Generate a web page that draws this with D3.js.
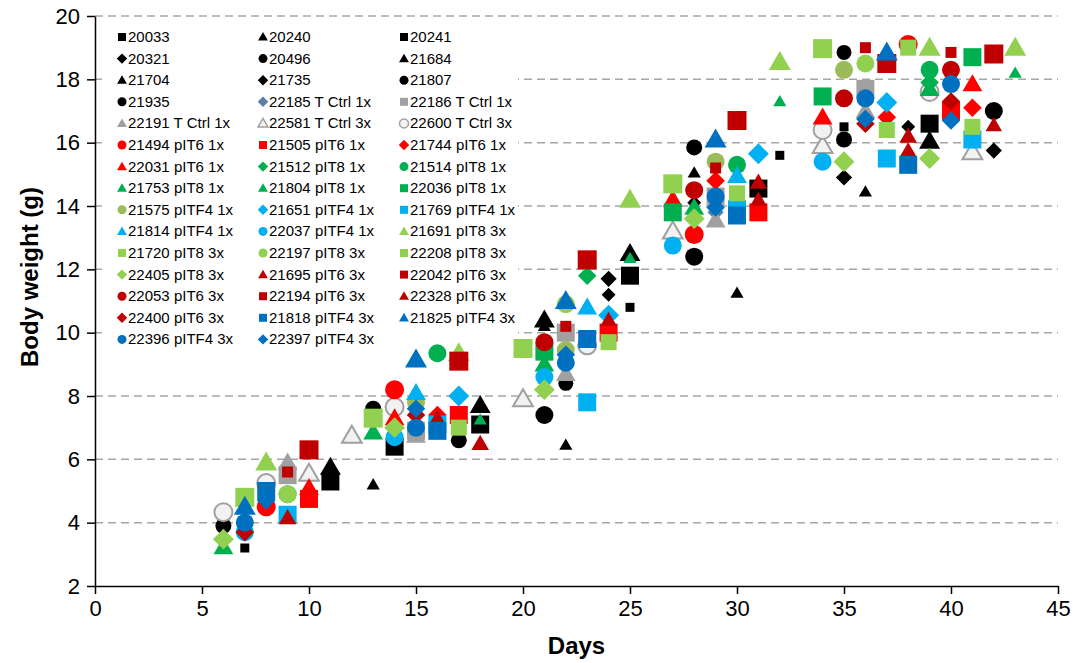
<!DOCTYPE html>
<html>
<head>
<meta charset="utf-8">
<script src="https://cdn.jsdelivr.net/npm/d3@7"></script>
<style>
    body { margin: 0; background: #fff; }
    svg { display: block; font-family: "Liberation Sans", Arial, sans-serif; }
</style>
</head>
<body>
<div id="chart"></div>
<script>
'use strict';

// Body weight per mouse.
var xTicks = [0, 5, 10, 15, 20, 25, 30, 35, 40, 45];
var yTicks = [2, 4, 6, 8, 10, 12, 14, 16, 18, 20];

var seriesNames = [
    '20033', '20240', '20241',
    '20321', '20496', '21684',
    '21704', '21735', '21807',
    '21935', '22185 T Ctrl 1x', '22186 T Ctrl 1x',
    '22191 T Ctrl 1x', '22581 T Ctrl 3x', '22600 T Ctrl 3x',
    '21494 pIT6 1x', '21505 pIT6 1x', '21744 pIT6 1x',
    '22031 pIT6 1x', '21512 pIT8 1x', '21514 pIT8 1x',
    '21753 pIT8 1x', '21804 pIT8 1x', '22036 pIT8 1x',
    '21575 pITF4 1x', '21651 pITF4 1x', '21769 pITF4 1x',
    '21814 pITF4 1x', '22037 pITF4 1x', '21691 pIT8 3x',
    '21720 pIT8 3x', '22197 pIT8 3x', '22208 pIT8 3x',
    '22405 pIT8 3x', '21695 pIT6 3x', '22042 pIT6 3x',
    '22053 pIT6 3x', '22194 pIT6 3x', '22328 pIT6 3x',
    '22400 pIT6 3x', '21818 pITF4 3x', '21825 pITF4 3x',
    '22396 pITF4 3x', '22397 pITF4 3x'
];

var seriesDays = [
    [11, 14, 18, 25, 31, 39],      // 20033
    [21, 28],                      // 20240
    [7, 25, 32, 35],               // 20241
    [24, 35, 42],                  // 20321
    [22, 35],                      // 20496
    [13, 22, 30, 36],              // 21684
    [11, 18, 21, 25, 39],          // 21704
    [24, 28, 38],                  // 21735
    [21, 28, 42],                  // 21807
    [6, 13, 17, 28, 35],           // 21935
    [15, 29],                      // 22185
    [9, 15, 22, 29, 36],           // 22186
    [9, 15, 22, 29, 36],           // 22191
    [10, 12, 20, 27, 34, 41],      // 22581
    [6, 8, 14, 23, 34, 39],        // 22600
    [8, 14, 28, 38],               // 21494
    [10, 17, 24, 31, 40],          // 21505
    [16, 29, 37, 41],              // 21744
    [10, 14, 27, 34, 41],          // 22031
    [23, 39],                      // 21512
    [9, 16, 30, 39],               // 21514
    [6, 13, 21, 28, 39],           // 21753
    [18, 25, 32, 43],              // 21804
    [21, 27, 34, 41],              // 22036
    [15, 22, 29, 35],              // 21575
    [17, 24, 31, 37],              // 21651
    [9, 16, 23, 30, 37, 41],       // 21769
    [15, 23, 30],                  // 21814
    [7, 14, 21, 27, 34],           // 22037
    [8, 17, 25, 32, 39, 43],       // 21691
    [7, 13, 20, 27, 34],           // 21720
    [9, 22, 36],                   // 22197
    [17, 24, 30, 37, 38, 41],      // 22208
    [6, 14, 21, 28, 35, 39],       // 22405
    [9, 18, 31, 38],               // 21695
    [9, 22, 29, 36, 40],           // 22042
    [21, 28, 35, 40],              // 22053
    [10, 17, 23, 30, 37, 42],      // 22194
    [16, 24, 31, 38, 42],          // 22328
    [7, 15, 36, 40],               // 22400
    [8, 16, 23, 30, 38],           // 21818
    [7, 15, 22, 29, 37],           // 21825
    [7, 15, 22, 29, 36, 40],       // 22396
    [8, 15, 22, 29, 36, 40]        // 22397
];

var seriesWeights = [
    [5.3, 6.4, 7.1, 11.8, 14.55, 16.6],
    [10.2, 15.05],
    [3.2, 10.8, 15.6, 16.5],
    [11.7, 14.9, 15.75],
    [8.4, 18.85],
    [5.2, 6.45, 11.25, 14.45],
    [5.75, 7.7, 10.4, 12.5, 16.05],
    [11.2, 14.1, 16.5],
    [7.4, 12.4, 17.0],
    [3.9, 7.6, 6.6, 15.85, 16.1],
    [7.4, 13.8],
    [5.5, 6.9, 10.0, 14.3, 17.7],
    [5.9, 6.75, 8.7, 13.55, 17.0],
    [5.55, 6.75, 7.9, 13.2, 15.9, 15.7],
    [4.33, 5.25, 7.65, 9.6, 16.4, 17.6],
    [4.5, 8.2, 13.1, 19.1],
    [4.75, 7.4, 10.0, 13.8, 17.0],
    [7.4, 14.8, 16.8, 17.1],
    [5.1, 7.3, 14.2, 16.8, 17.85],
    [11.8, 17.9],
    [4.9, 9.35, 15.3, 18.3],
    [3.23, 6.85, 9.0, 13.95, 17.7],
    [7.25, 12.35, 17.3, 18.2],
    [9.4, 13.8, 17.46, 18.7],
    [7.8, 9.45, 15.4, 18.3],
    [8.0, 10.55, 15.65, 17.27],
    [4.25, 7.1, 7.8, 13.9, 15.5, 16.1],
    [8.1, 10.8, 14.95],
    [3.7, 6.7, 8.6, 12.75, 15.4],
    [5.9, 9.35, 14.2, 18.55, 19.0, 19.0],
    [4.8, 7.3, 9.5, 14.7, 18.97],
    [4.9, 10.9, 18.5],
    [7.0, 9.7, 14.4, 16.4, 19.0, 16.5],
    [3.48, 7.0, 8.2, 13.6, 15.4, 15.5],
    [4.15, 6.5, 14.75, 16.2],
    [5.6, 10.2, 15.2, 19.0, 18.85],
    [9.7, 14.5, 17.4, 18.3],
    [6.3, 9.1, 12.3, 16.7, 18.5, 18.8],
    [7.3, 10.4, 14.2, 15.75, 16.55],
    [3.7, 7.4, 16.6, 17.3],
    [5.0, 6.9, 9.8, 13.7, 15.3],
    [4.5, 9.15, 11.0, 16.1, 18.85],
    [4.0, 7.0, 9.05, 14.3, 17.4, 17.85],
    [4.7, 7.6, 9.3, 13.95, 16.75, 16.7]
];

// Marker styles, one per series: [shape, colour, size in px, hollow]
var C = {
    black: '#000000', slate: '#5b7fa9', grey: '#a0a0a0', red: '#ff0000',
    green: '#00b050', olive: '#9bbb59', cyan: '#00b0f0', lime: '#92d050',
    darkRed: '#c00000', blue: '#0070c0'
};
var seriesStyle = [
    ['square', C.black, 18], ['triangle', C.black, 12], ['square', C.black, 9],
    ['diamond', C.black, 14], ['circle', C.black, 15], ['triangle', C.black, 12],
    ['triangle', C.black, 19], ['diamond', C.black, 12], ['circle', C.black, 18],
    ['circle', C.black, 16], ['diamond', C.slate, 14], ['square', C.grey, 18],
    ['triangle', C.grey, 18], ['triangle', C.grey, 18, true], ['circle', C.grey, 18, true],
    ['circle', C.red, 19], ['square', C.red, 18], ['diamond', C.red, 16],
    ['triangle', C.red, 18], ['diamond', C.green, 16], ['circle', C.green, 18],
    ['triangle', C.green, 18], ['triangle', C.green, 12], ['square', C.green, 18],
    ['circle', C.olive, 18], ['diamond', C.cyan, 18], ['square', C.cyan, 18],
    ['triangle', C.cyan, 18], ['circle', C.cyan, 18], ['triangle', C.lime, 20],
    ['square', C.lime, 19], ['circle', C.lime, 18], ['square', C.lime, 16],
    ['diamond', C.lime, 18], ['triangle', C.darkRed, 16], ['square', C.darkRed, 11],
    ['circle', C.darkRed, 18], ['square', C.darkRed, 19], ['triangle', C.darkRed, 15],
    ['diamond', C.darkRed, 16], ['square', C.blue, 18], ['triangle', C.blue, 20],
    ['circle', C.blue, 18], ['diamond', C.blue, 16]
];

// Excel-like marker shapes, "size" is the marker's width in px.
var shapes = {
    square: { draw: function (ctx, s) { ctx.rect(-s / 2, -s / 2, s, s); } },
    circle: { draw: function (ctx, s) { ctx.moveTo(s / 2, 0); ctx.arc(0, 0, s / 2, 0, 2 * Math.PI); } },
    triangle: { draw: function (ctx, s) {
        var w = s * 1.1, h = s * 0.95;
        ctx.moveTo(0, -h * 0.58); ctx.lineTo(w / 2, h * 0.42); ctx.lineTo(-w / 2, h * 0.42); ctx.closePath();
    } },
    diamond: { draw: function (ctx, s) {
        var r = s * 0.58;
        ctx.moveTo(0, -r); ctx.lineTo(r, 0); ctx.lineTo(0, r); ctx.lineTo(-r, 0); ctx.closePath();
    } }
};

var width = 1078, height = 663;

var svg = d3.select('#chart').append('svg')
    .attr('width', width)
    .attr('height', height);

var x = d3.scaleLinear().domain([0, 45]).range([95, 1058]);
var y = d3.scaleLinear().domain([2, 20]).range([586, 16]);

// dashed grid lines
svg.append('g')
    .selectAll('line')
    .data(yTicks.slice(1))
    .enter().append('line')
    .attr('x1', x(0))
    .attr('x2', x(45))
    .attr('y1', function (d) { return y(d); })
    .attr('y2', function (d) { return y(d); })
    .style('stroke', '#a6a6a6')
    .style('stroke-width', 1.5)
    .style('stroke-dasharray', '8,5');

// axes
var xAxis = svg.append('g')
    .attr('transform', 'translate(0,' + y(2) + ')')
    .call(d3.axisBottom(x).tickValues(xTicks).tickSize(8).tickSizeOuter(0).tickPadding(6));

var yAxis = svg.append('g')
    .attr('transform', 'translate(' + x(0) + ',0)')
    .call(d3.axisLeft(y).tickValues(yTicks).tickSize(8).tickSizeOuter(0).tickPadding(7));

[xAxis, yAxis].forEach(function (axis) {
    axis.select('.domain').style('stroke', '#000').style('stroke-width', 1.5);
    axis.selectAll('.tick line').style('stroke', '#000').style('stroke-width', 1.5);
    axis.selectAll('.tick text')
        .style('font-family', '"Liberation Sans", Arial, sans-serif')
        .style('font-size', '22px')
        .style('fill', '#000');
});

svg.append('text')
    .attr('x', (x(0) + x(45)) / 2)
    .attr('y', 654)
    .attr('text-anchor', 'middle')
    .style('font-size', '24px')
    .style('font-weight', 'bold')
    .text('Days');

svg.append('text')
    .attr('transform', 'translate(38,277) rotate(-90)')
    .attr('text-anchor', 'middle')
    .style('font-size', '24px')
    .style('font-weight', 'bold')
    .text('Body weight (g)');

// legend
var legend = svg.append('g');

legend.append('rect')
    .attr('x', 102)
    .attr('y', 24)
    .attr('width', 416)
    .attr('height', 326)
    .style('fill', '#fff');

var legendItem = legend.selectAll('.item')
    .data(seriesNames)
    .enter().append('g')
    .attr('class', 'item')
    .attr('transform', function (d, i) {
        var col = i % 3, row = Math.floor(i / 3);
        return 'translate(' + (122 + col * 141) + ',' + (37 + row * 21.6) + ')';
    });

legendItem.append('path')
    .attr('d', function (d, i) {
        var st = seriesStyle[i];
        return d3.symbol().type(shapes[st[0]]).size(st[0] === 'square' ? 8 : 9)();
    })
    .style('fill', function (d, i) { return seriesStyle[i][3] ? '#f2f2f2' : seriesStyle[i][1]; })
    .style('stroke', function (d, i) { return seriesStyle[i][3] ? seriesStyle[i][1] : 'none'; })
    .style('stroke-width', 1.5);

legendItem.append('text')
    .attr('x', 6)
    .attr('y', 5)
    .style('font-size', '15px')
    .style('fill', '#000')
    .text(function (d) { return d; });

// markers, drawn series by series so later series sit on top
var points = svg.append('g');

seriesNames.forEach(function (name, i) {
    var st = seriesStyle[i],
        data = seriesDays[i].map(function (day, j) { return { day: day, weight: seriesWeights[i][j] }; });

    points.append('g')
        .attr('data-id', name)
        .selectAll('path')
        .data(data)
        .enter().append('path')
        .attr('transform', function (d) { return 'translate(' + x(d.day) + ',' + y(d.weight) + ')'; })
        .attr('d', d3.symbol().type(shapes[st[0]]).size(st[2]))
        .style('fill', st[3] ? '#f2f2f2' : st[1])
        .style('stroke', st[3] ? st[1] : 'none')
        .style('stroke-width', 2);
});
</script>
</body>
</html>
